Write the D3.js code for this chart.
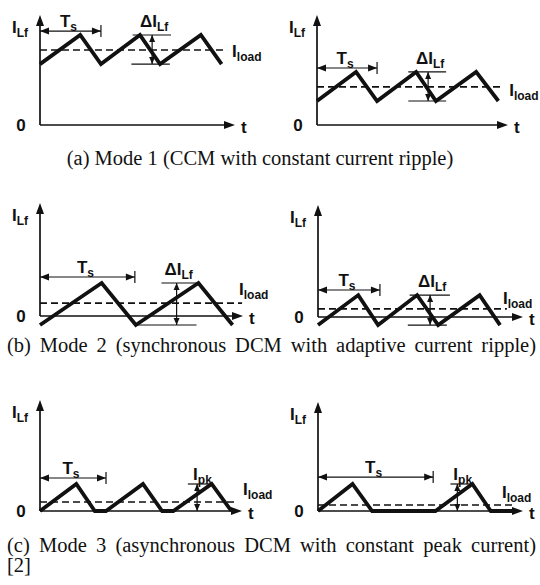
<!DOCTYPE html>
<html>
<head>
<meta charset="utf-8">
<script src="https://cdn.jsdelivr.net/npm/d3@7"></script>
<style>
  body { margin: 0; background: #fff; }
  .lbl { font-family: "Liberation Sans", Arial, sans-serif; font-weight: bold; fill: #111; }
  .cap { font-family: "Liberation Serif", "Times New Roman", serif; fill: #111; }
</style>
</head>
<body>
<div id="fig"></div>
<script>
// inductor current waveforms, time in units of Ts, current in arbitrary units
var a1T = [0, 0.66, 1.0, 1.64, 1.97, 2.64, 2.98];
var a1I = [2.03, 3.0, 2.03, 3.0, 2.03, 3.0, 2.03];
var a2T = [0, 0.65, 1.0, 1.65, 1.98, 2.65, 3.02];
var a2I = [0.8, 1.77, 0.8, 1.77, 0.8, 1.77, 0.8];
var b1T = [0, 0.65, 1.01, 1.67, 2.03];
var b1I = [-0.3, 1.1, -0.3, 1.1, -0.3];
var b2T = [0, 0.65, 0.97, 1.6, 1.94, 2.61, 2.94];
var b2I = [-0.27, 0.73, -0.27, 0.73, -0.27, 0.73, -0.27];
var c1T = [0, 0.55, 0.83, 1.0, 1.56, 1.85, 2.02, 2.6, 2.9];
var c1I = [0, 0.9, 0, 0, 0.9, 0, 0, 0.9, 0];
var c2T = [0, 0.30, 0.47, 1.02, 1.34, 1.5, 1.71];
var c2I = [0, 0.9, 0, 0, 0.9, 0, 0];

var loads = [2.5, 1.27, 0.43, 0.27, 0.3, 0.2];
var captions = [
  "(a) Mode 1 (CCM with constant current ripple)",
  "(b) Mode 2 (synchronous DCM with adaptive current ripple)",
  "(c) Mode 3 (asynchronous DCM with constant peak current)",
  "[2]"
];

var svgWidth = 540, svgHeight = 585;
var ink = "#111";

var svg = d3.select("#fig").append("svg")
  .attr("width", svgWidth)
  .attr("height", svgHeight);

// panel layout + annotation anchors (in data units)
var panels = [
  { t: a1T, i: a1I, load: loads[0], tEnd: 3.2, x0: 40, x1: 235, yBase: 125, yTop: 15,
    tsAt: 3.13, mark: "d", markT: 1.84, topSpan: [1.52, 2.15], botSpan: [1.5, 2.13], loadEnd: 3.07, loadDx: 5, loadDy: 7 },
  { t: a2T, i: a2I, load: loads[1], tEnd: 3.18, x0: 317, x1: 508, yBase: 125, yTop: 15,
    tsAt: 1.9, mark: "d", markT: 1.85, topSpan: [1.52, 2.15], botSpan: [1.52, 2.15], loadEnd: 3.1, loadDx: 6, loadDy: 9 },
  { t: b1T, i: b1I, load: loads[2], tEnd: 2.14, x0: 40, x1: 243, yBase: 316, yTop: 203,
    tsAt: 1.3, mark: "d", markT: 1.44, topSpan: [1.28, 1.68], botSpan: [1.02, 1.65], loadEnd: 2.13, loadDx: -3, loadDy: -8 },
  { t: b2T, i: b2I, load: loads[3], tEnd: 3.31, x0: 318, x1: 523, yBase: 317, yTop: 205,
    tsAt: 0.9, mark: "d", markT: 1.81, topSpan: [1.48, 2.13], botSpan: [1.45, 2.08], loadEnd: 3.05, loadDx: -4, loadDy: -5 },
  { t: c1T, i: c1I, load: loads[4], tEnd: 3.06, x0: 40, x1: 242, yBase: 511, yTop: 400,
    tsAt: 1.1, mark: "pk", markT: 2.38, topSpan: [2.24, 2.62], loadEnd: 3.0, loadDx: 5, loadDy: -7 },
  { t: c2T, i: c2I, load: loads[5], tEnd: 1.78, x0: 318, x1: 523, yBase: 511, yTop: 402,
    tsAt: 1.13, mark: "pk", markT: 1.21, topSpan: [1.15, 1.32], loadEnd: 1.71, loadDx: -13, loadDy: -7 }
];

function head(g, x, y, dir, len, half) {
  var p;
  if (dir === "up") p = [[x, y], [x - half, y + len], [x + half, y + len]];
  if (dir === "down") p = [[x, y], [x - half, y - len], [x + half, y - len]];
  if (dir === "left") p = [[x, y], [x + len, y - half], [x + len, y + half]];
  if (dir === "right") p = [[x, y], [x - len, y - half], [x - len, y + half]];
  g.append("path").attr("d", "M" + p.join("L") + "Z").attr("fill", ink);
}

function label(g, x, y, main, sub, anchor) {
  var t = g.append("text").attr("class", "lbl")
    .attr("x", x).attr("y", y)
    .attr("text-anchor", anchor || "start")
    .style("font-size", "17px");
  t.append("tspan").text(main);
  if (sub) t.append("tspan").attr("dy", 4).style("font-size", "12px").text(sub);
  return t;
}

panels.forEach(function(p) {
  var x = d3.scaleLinear().domain([0, p.tEnd]).range([p.x0, p.x1]);
  var y = d3.scaleLinear().domain([0, 3.7]).range([p.yBase, p.yBase - 111]);
  var g = svg.append("g");

  // axes
  g.append("line").attr("x1", p.x0).attr("x2", p.x0).attr("y1", p.yBase).attr("y2", p.yTop + 6)
    .attr("stroke", ink).attr("stroke-width", 1.7);
  head(g, p.x0, p.yTop, "up", 11, 4);
  g.append("line").attr("x1", p.x0).attr("x2", p.x1 - 6).attr("y1", p.yBase).attr("y2", p.yBase)
    .attr("stroke", ink).attr("stroke-width", 1.7);
  head(g, p.x1, p.yBase, "right", 11, 4);

  label(g, p.x0 - 28, p.yTop + 18, "I", "Lf");
  label(g, p.x0 - 19, p.yBase + 6, "0", null, "middle");
  label(g, p.x1 + 6, p.yBase + 8, "t");

  // load current
  g.append("line")
    .attr("x1", x(0)).attr("x2", x(p.loadEnd))
    .attr("y1", y(p.load)).attr("y2", y(p.load))
    .attr("stroke", ink).attr("stroke-width", 1.6)
    .attr("stroke-dasharray", "7,4");
  label(g, x(p.loadEnd) + p.loadDx, y(p.load) + p.loadDy, "I", "load");

  // waveform
  var line = d3.line().x(function(d) { return x(d[0]); }).y(function(d) { return y(d[1]); });
  g.append("path")
    .datum(d3.zip(p.t, p.i))
    .attr("d", line)
    .attr("fill", "none")
    .attr("stroke", ink)
    .attr("stroke-width", 3.8)
    .attr("stroke-linejoin", "miter");

  // Ts arrow
  var ty = y(p.tsAt);
  g.append("line").attr("x1", x(0)).attr("x2", x(1)).attr("y1", ty).attr("y2", ty)
    .attr("stroke", ink).attr("stroke-width", 1.2);
  head(g, x(0), ty, "left", 9, 3.5);
  head(g, x(1), ty, "right", 9, 3.5);
  g.append("line").attr("x1", x(1)).attr("x2", x(1)).attr("y1", ty - 6).attr("y2", ty + 6)
    .attr("stroke", ink).attr("stroke-width", 1.2);
  label(g, x(0.5) - 2, ty - 4, "T", "s", "middle");

  // ripple / peak marker
  var iMax = d3.max(p.i), iMin = p.mark === "pk" ? 0 : d3.min(p.i);
  var mx = x(p.markT);
  g.append("line").attr("x1", x(p.topSpan[0])).attr("x2", x(p.topSpan[1]))
    .attr("y1", y(iMax)).attr("y2", y(iMax)).attr("stroke", ink).attr("stroke-width", 1.2);
  if (p.mark === "d") {
    g.append("line").attr("x1", x(p.botSpan[0])).attr("x2", x(p.botSpan[1]))
      .attr("y1", y(iMin)).attr("y2", y(iMin)).attr("stroke", ink).attr("stroke-width", 1.2);
  }
  g.append("line").attr("x1", mx).attr("x2", mx).attr("y1", y(iMax)).attr("y2", y(iMin))
    .attr("stroke", ink).attr("stroke-width", 1.2);
  head(g, mx, y(iMax), "up", 7, 3);
  head(g, mx, y(iMin), "down", 7, 3);
  if (p.mark === "d") {
    label(g, mx + 2, y(iMax) - 8, "\u0394I", "Lf", "middle");
  } else {
    label(g, mx - 4, y(iMax) - 4, "I", "pk");
  }
});

// captions; (b) and (c) are justified across the full width
function caption(txt, x, y, anchor, justifyTo) {
  var t = svg.append("text").attr("class", "cap").attr("x", x).attr("y", y)
    .attr("text-anchor", anchor).style("font-size", "20.5px").text(txt);
  if (justifyTo) {
    var len = t.node().getComputedTextLength();
    var gaps = txt.split(" ").length - 1;
    t.style("word-spacing", ((justifyTo - len) / gaps) + "px");
  }
}
caption(captions[0], 260, 165, "middle");
caption(captions[1], 7, 352, "start", 529);
caption(captions[2], 7, 552, "start", 529);
caption(captions[3], 7, 572, "start");
</script>
</body>
</html>
